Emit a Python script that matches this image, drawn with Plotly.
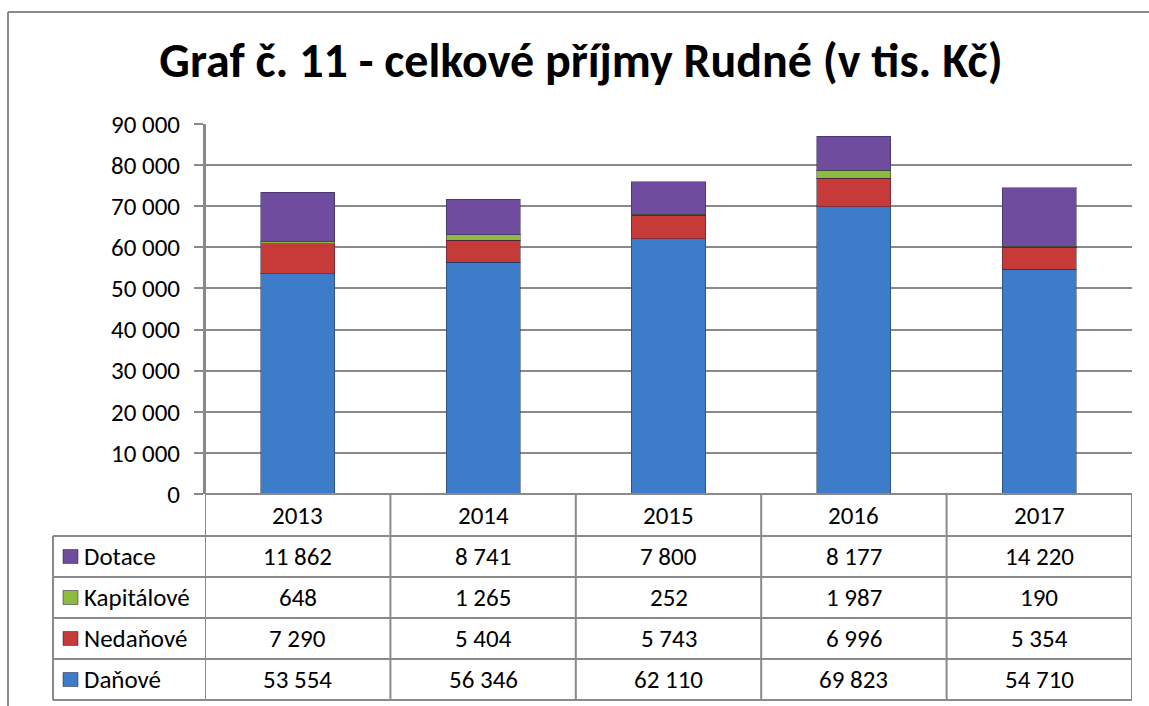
import plotly.graph_objects as go

# ── data (tis. Kč) ─────────────────────────────────────────────
ROKY = ["2013", "2014", "2015", "2016", "2017"]
DANOVE = [53554, 56346, 62110, 69823, 54710]
NEDANOVE = [7290, 5404, 5743, 6996, 5354]
KAPITALOVE = [648, 1265, 252, 1987, 190]
DOTACE = [11862, 8741, 7800, 8177, 14220]
Y_TICKS = [0, 10000, 20000, 30000, 40000, 50000, 60000, 70000, 80000, 90000]

# ── styl ───────────────────────────────────────────────────────
MODRA = "#3C7CC8"
CERVENA = "#C63A3A"
ZELENA = "#8DBA3F"
FIALOVA = "#6F4C9E"
SEDA = "#8A8A8A"
FONT = "Carlito, Lato, sans-serif"
VEL = 25

W, H = 1149, 706
L, R, T, B = 205, 1132, 124, 494           # plocha grafu v px
RADKY_PX = [494, 536, 577, 618, 659, 700]  # linky tabulky
TAB_LEVO = 53


def fmt(v):
    return f"{v:,.0f}".replace(",", " ")


def py(ypx):
    return (B - ypx) / (B - T)


def px_(xpx):
    return (xpx - L) / (R - L)


serie = [("Daňové", DANOVE, MODRA), ("Nedaňové", NEDANOVE, CERVENA),
         ("Kapitálové", KAPITALOVE, ZELENA), ("Dotace", DOTACE, FIALOVA)]

fig = go.Figure()
for nazev, hodnoty, barva in serie:
    fig.add_bar(x=ROKY, y=hodnoty, name=nazev, marker_color=barva,
                marker_line=dict(color="rgba(30,30,60,0.45)", width=1), width=0.4)

shapes = []
annotations = []
car = dict(color=SEDA, width=2)

# rám celého grafu (vpravo a dole oříznutý)
shapes.append(dict(type="line", xref="paper", yref="paper", x0=px_(8), x1=px_(1160),
                   y0=py(12), y1=py(12), line=car))
shapes.append(dict(type="line", xref="paper", yref="paper", x0=px_(8), x1=px_(8),
                   y0=py(12), y1=py(720), line=car))

# tabulka — vodorovné linky
shapes.append(dict(type="line", xref="paper", yref="paper", x0=0, x1=1,
                   y0=py(RADKY_PX[0]), y1=py(RADKY_PX[0]), line=car))
for ypx in RADKY_PX[1:]:
    shapes.append(dict(type="line", xref="paper", yref="paper", x0=px_(TAB_LEVO), x1=1,
                       y0=py(ypx), y1=py(ypx), line=car))
# svislé linky
shapes.append(dict(type="line", xref="paper", yref="paper", x0=px_(TAB_LEVO), x1=px_(TAB_LEVO),
                   y0=py(RADKY_PX[1]), y1=py(RADKY_PX[-1]), line=car))
for i in range(len(ROKY) + 1):
    shapes.append(dict(type="line", xref="x", yref="paper", x0=i - 0.5, x1=i - 0.5,
                       y0=py(RADKY_PX[0]) if i else 1, y1=py(RADKY_PX[-1]), line=car))

# hlavička s roky
for i, rok in enumerate(ROKY):
    annotations.append(dict(x=i, xref="x", yref="paper", yanchor="middle",
                            y=py((RADKY_PX[0] + RADKY_PX[1]) / 2), text=rok, showarrow=False,
                            font=dict(size=VEL, color="black", family=FONT)))

# řádky s hodnotami (pořadí shora jako v legendě tabulky)
for r, (nazev, hodnoty, barva) in enumerate(reversed(serie)):
    yc = (RADKY_PX[r + 1] + RADKY_PX[r + 2]) / 2
    for i, v in enumerate(hodnoty):
        annotations.append(dict(x=i, xref="x", yref="paper", y=py(yc), yanchor="middle",
                                text=fmt(v), showarrow=False,
                                font=dict(size=VEL, color="black", family=FONT)))
    shapes.append(dict(type="rect", xref="paper", yref="paper", x0=px_(63), x1=px_(78),
                       y0=py(yc + 7), y1=py(yc - 7), fillcolor=barva,
                       line=dict(color="rgba(30,30,60,0.5)", width=1)))
    annotations.append(dict(x=px_(82), xref="paper", yref="paper", y=py(yc), text=nazev,
                            xanchor="left", yanchor="middle", showarrow=False,
                            font=dict(size=VEL, color="black", family=FONT)))

fig.update_layout(
    width=W, height=H,
    paper_bgcolor="white", plot_bgcolor="white",
    margin=dict(l=L, r=W - R, t=T, b=H - B),
    barmode="stack", showlegend=False,
    font=dict(family=FONT, color="black"),
    title=dict(text="<b>Graf č. 11 - celkové příjmy Rudné (v tis. Kč)</b>",
               x=581 / W, xanchor="center",
               y=1 - 60 / H, yanchor="middle",
               font=dict(size=48, color="black", family=FONT)),
    xaxis=dict(type="category", range=[-0.5, 4.5], showticklabels=False, showgrid=False,
               zeroline=False, ticks="", showline=False),
    yaxis=dict(range=[0, 90000], tickvals=Y_TICKS, ticktext=[fmt(v) for v in Y_TICKS],
               showgrid=True, gridcolor=SEDA, gridwidth=2, zeroline=False,
               showline=True, linecolor=SEDA, linewidth=2,
               ticks="outside", ticklen=9, tickcolor=SEDA, tickwidth=2,
               ticklabelstandoff=9,
               tickfont=dict(size=VEL, color="black", family=FONT)),
    shapes=shapes, annotations=annotations,
)

# bez okraje stránky, posuvníků a lišty nástrojů, ať figura sedí přesně do okna
fig.write_html("out.html", config={"displayModeBar": False},
               post_script="document.body.style.margin='0';"
                           "document.body.style.overflow='hidden';")
